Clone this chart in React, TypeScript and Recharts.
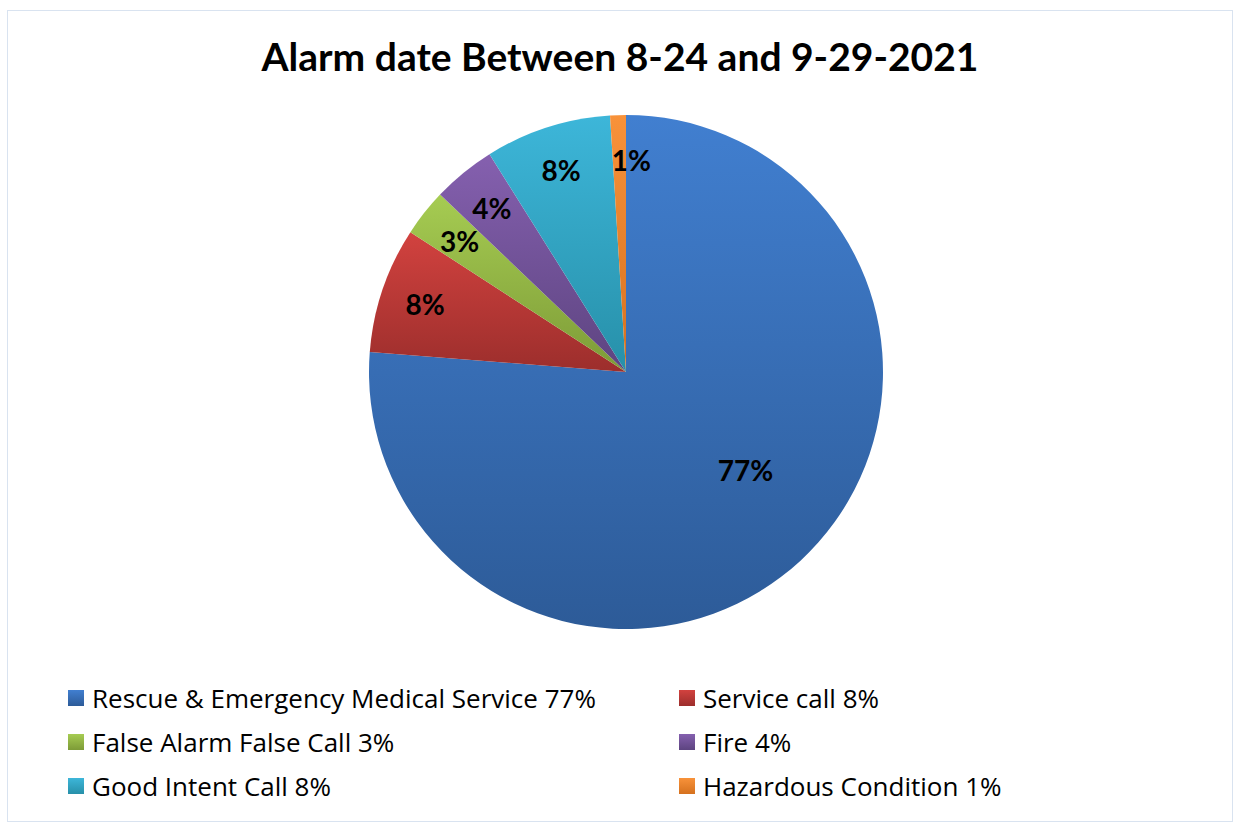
import React from "react";
import { PieChart, Pie, Cell, Legend } from "recharts";

const categories = [
  "Rescue & Emergency Medical Service",
  "Service call",
  "False Alarm False Call",
  "Fire",
  "Good Intent Call",
  "Hazardous Condition",
];
const shares = [77, 8, 3, 4, 8, 1];
const topColors = ["#417FD0", "#D2423F", "#A6CC52", "#8560AF", "#3DB6D9", "#F8923A"];
const bottomColors = ["#2D5B98", "#9C2E2C", "#7D9B37", "#5D4480", "#2790A9", "#D5711E"];

const data = categories.map((name, i) => ({ name, value: shares[i] }));

const RADIAN = Math.PI / 180;
const FONT = "Lato, 'Open Sans', sans-serif";
const LEGEND_FONT = "'Open Sans', Lato, sans-serif";

const renderLabel = (props: any) => {
  const { cx, cy, midAngle, outerRadius, index, value } = props;
  const big = index === 0;
  const r = big ? outerRadius * 0.6 : outerRadius * 0.825;
  const a = big ? midAngle + 8 : midAngle;
  const x = cx + r * Math.cos(-a * RADIAN) + (index === 5 ? 12 : 0);
  const y = cy + r * Math.sin(-a * RADIAN);
  return (
    <text
      x={x}
      y={y}
      textAnchor="middle"
      dominantBaseline="central"
      fill="#000"
      fontFamily={FONT}
      fontWeight={700}
      fontSize={28}
    >
      {value}%
    </text>
  );
};

const renderLegend = () => (
  <div
    style={{
      display: "grid",
      gridTemplateColumns: "611px 500px",
      gridAutoRows: "44px",
      fontFamily: LEGEND_FONT,
      fontSize: 26,
      color: "#000",
    }}
  >
    {categories.map((name, i) => (
      <div key={name} style={{ display: "flex", alignItems: "center" }}>
        <svg width={16} height={16} style={{ marginRight: 8 }}>
          <rect x={0} y={0} width={16} height={16} fill={`url(#grad${i})`} />
        </svg>
        <span>
          {name} {shares[i]}%
        </span>
      </div>
    ))}
  </div>
);

export default function App() {
  return (
    <div
      style={{
        position: "absolute",
        left: 7,
        top: 10,
        width: 1224,
        height: 810,
        border: "1.5px solid #D9E3F0",
        background: "#fff",
      }}
    >
      <div
        style={{
          position: "absolute",
          left: 0,
          width: "100%",
          top: 22,
          textAlign: "center",
          fontFamily: FONT,
          fontWeight: 700,
          fontSize: 39,
          color: "#000",
        }}
      >
        Alarm date Between 8-24 and 9-29-2021
      </div>
      <PieChart width={1224} height={810}>
        <defs>
          {categories.map((_, i) => (
            <linearGradient key={i} id={`grad${i}`} x1="0" y1="0" x2="0" y2="1">
              <stop offset="0%" stopColor={topColors[i]} />
              <stop offset="100%" stopColor={bottomColors[i]} />
            </linearGradient>
          ))}
        </defs>
        <Pie
          data={data}
          dataKey="value"
          nameKey="name"
          cx={613}
          cy={356}
          outerRadius={257}
          startAngle={90}
          endAngle={-270}
          stroke="none"
          labelLine={false}
          label={renderLabel}
          isAnimationActive={false}
        >
          {data.map((d, i) => (
            <Cell key={d.name} fill={`url(#grad${i})`} />
          ))}
        </Pie>
        <Legend
          content={renderLegend}
          wrapperStyle={{ position: "absolute", left: 60, top: 665, width: 1111 }}
        />
      </PieChart>
    </div>
  );
}
